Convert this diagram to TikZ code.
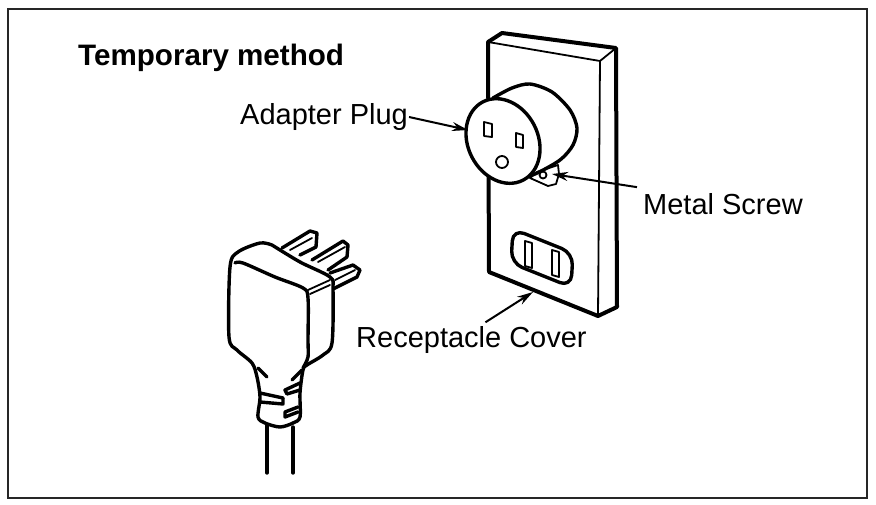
\documentclass[tikz,border=0pt]{standalone}
\usepackage{fontspec}
\setmainfont{Liberation Sans}
\tikzset{
	thick line/.style = {line width = 3.4pt, line join = round, line cap = round},
	thin line/.style = {line width = 1.8pt, line join = round, line cap = round},
	label text/.style = {inner sep = 0pt, anchor = west, font = \fontsize{29}{31}\selectfont},
	pointer/.style = {line width = 2pt, -{Stealth[length = 16pt, width = 9pt]}}
}
\usetikzlibrary{arrows.meta}
\begin{document}
\begin{tikzpicture}[x = 1pt, y = -1pt]
	\useasboundingbox (0, 0) rectangle (876, 504);

	\coordinate (f1) at (8, 9);
	\coordinate (f2) at (867, 498);

	\coordinate (c1) at (488, 42);
	\coordinate (c2) at (502, 33);
	\coordinate (c3) at (616, 48);
	\coordinate (c4) at (600, 61);
	\coordinate (c5) at (617, 307);
	\coordinate (c6) at (598, 316);
	\coordinate (c7) at (489, 272);

	\coordinate (adaptertip) at (468, 130);
	\coordinate (screwtip) at (552, 174);
	\coordinate (covertip) at (533, 292);

	\draw [line width = 2pt, draw = black!85] (f1) rectangle (f2);

	% cover
	\draw [line width = 4pt, line join = round] (c7) -- (c1) -- (c2) -- (c3) -- (c5) -- (c6) -- cycle;
	\draw [thin line] (c1) -- (c4) -- (c3);
	\draw [thin line] (c4) -- (c6);

	% receptacle
	\draw [thick line, rounded corners = 12pt] (513, 229) -- (573, 253) -- (571, 287) -- (511, 263) -- cycle;
	\draw [thin line] (525, 241) -- (532, 243) -- (532, 268) -- (525, 266) -- cycle;
	\draw [thin line] (552, 250) -- (559, 252) -- (559, 277) -- (552, 275) -- cycle;

	% adapter
	\draw [thick line, fill = white] plot [smooth] coordinates {(493, 98) (512, 88) (530, 84) (552, 92) (570, 110) (577, 128) (573, 145) (560, 160) (535, 174) (515, 180)} -- (493, 98);
	\draw [thick line, fill = white, rotate around = {-63 : (503, 141)}] (503, 141) ellipse [x radius = 44, y radius = 35];
	\draw [thin line] (484, 122) -- (492, 124) -- (492, 137) -- (484, 136) -- cycle;
	\draw [thin line] (516, 133) -- (523, 135) -- (523, 148) -- (516, 147) -- cycle;
	\draw [thin line] (502, 162) circle [radius = 6];

	% screw
	\draw [thin line] (530, 178) -- (537, 172) -- (558, 165) -- (559, 174) -- (556, 184) -- (548, 186) -- cycle;
	\draw [thin line] (543, 175) circle [radius = 3.5];

	% plug prongs
	\draw [thick line] (282, 248) -- (310, 231) -- (317, 233) -- (316, 247) -- (300, 255);
	\draw [thin line] (290, 250) -- (312, 238);
	\draw [thick line] (312, 260) -- (343, 241) -- (348, 245) -- (347, 257) -- (328, 270);
	\draw [thin line] (318, 262) -- (345, 247);
	\draw [thick line] (330, 273) -- (353, 265) -- (360, 270) -- (357, 277) -- (333, 289);
	\draw [thin line] (335, 280) -- (355, 270);

	% plug body
	\draw [thick line, fill = white] plot [smooth] coordinates {(272, 245) (260, 243) (238, 252) (230, 267) (229, 337) (237, 350) (252, 363) (257, 377) (260, 397) (258, 417) (265, 423) (280, 427) (293, 423) (300, 417) (300, 393) (303, 370) (307, 365) (323, 355) (332, 343) (333, 290) (330, 277) (300, 262) (272, 245)};
	\draw [thick line] plot [smooth] coordinates {(235, 263) (243, 263) (275, 277) (303, 288) (308, 298) (308, 340) (308, 357) (303, 368)};
	\draw [thin line] (308, 290) -- (330, 280);
	\draw [thin line] (310, 294) -- (330, 285);

	% collar
	\draw [thick line] (258, 368) -- (267, 377);
	\draw [thick line] (292, 380) -- (302, 370);
	\draw [thick line] (260, 393) -- (283, 398);
	\draw [thick line] (260, 402) -- (283, 404) -- (283, 398);
	\draw [thick line] (300, 383) -- (285, 390) -- (287, 394) -- (300, 390);
	\draw [thick line] (298, 407) -- (285, 412) -- (285, 417) -- (298, 412);

	% cord
	\draw [thick line] (267, 425) -- (267, 473);
	\draw [thick line] (293, 427) -- (293, 473);

	\node [label text, font = \fontsize{29.6}{31}\selectfont\bfseries] (title) at (78, 58) {Temporary method};
	\node [label text] (adapter) at (240, 117) {Adapter Plug};
	\node [label text] (screw) at (643, 204) {Metal Screw};
	\node [label text] (cover) at (356, 340) {Receptacle Cover};

	\draw [pointer] ([xshift = 1pt]adapter.east) -- (adaptertip);
	\draw [pointer] ([xshift = -6pt, yshift = 6pt]screw.north west) -- (screwtip);
	\draw [pointer] ([xshift = 14pt, yshift = 4pt]cover.north) -- (covertip);
\end{tikzpicture}
\end{document}
